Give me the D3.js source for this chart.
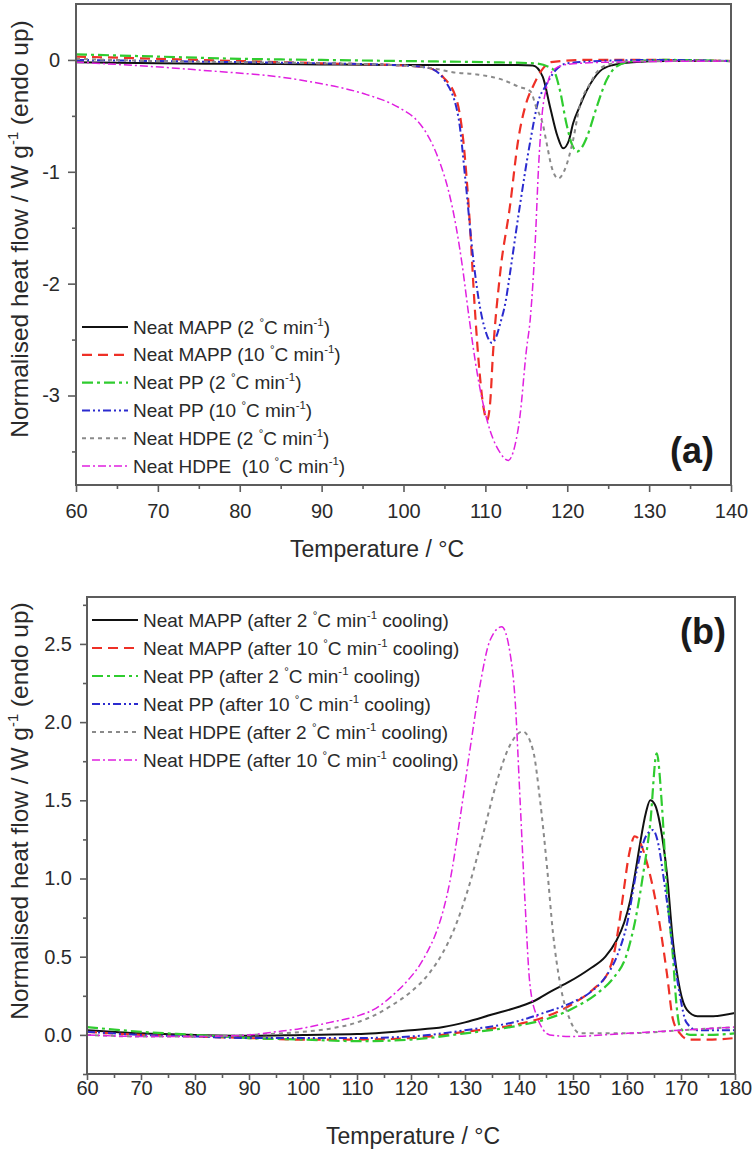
<!DOCTYPE html>
<html>
<head>
<meta charset="utf-8">
<script src="https://cdn.jsdelivr.net/npm/d3@7"></script>
<style>
  html, body { margin: 0; padding: 0; background: #fff; }
  svg { display: block; font-family: "Liberation Sans", Arial, sans-serif; }
  text { white-space: pre; }
</style>
</head>
<body>
<svg id="fig" width="752" height="1151"></svg>
<script>
// ---------- Panel (a): cooling scans ----------
const tA_mapp2  = [60, 70, 80, 90, 100, 110, 114, 115.8, 117, 117.9, 118.8, 119.5, 120.2, 120.7, 121.5, 122.4, 123.2, 124, 125.6, 128, 132, 140];
const vA_mapp2  = [-0.02, -0.03, -0.035, -0.04, -0.045, -0.045, -0.045, -0.05, -0.15, -0.42, -0.68, -0.79, -0.72, -0.57, -0.42, -0.27, -0.17, -0.1, -0.045, -0.02, -0.01, -0.01];

const tA_mapp10 = [60, 70, 80, 90, 100, 103, 104.8, 106.5, 107.3, 108.1, 108.7, 109.3, 109.8, 110.2, 110.6, 110.9, 111.8, 113, 114, 115.1, 115.8, 116.8, 118, 122, 130, 140];
const vA_mapp10 = [0.03, 0.01, -0.01, -0.03, -0.05, -0.07, -0.15, -0.36, -0.72, -1.46, -2.21, -2.8, -3.12, -3.22, -3.05, -2.66, -1.91, -1.31, -0.72, -0.36, -0.24, -0.1, -0.02, 0, 0, -0.01];

const tA_pp2    = [60, 70, 80, 90, 100, 110, 116, 118.2, 119.1, 119.9, 120.6, 121.2, 121.8, 122.4, 123.6, 124.8, 126, 128, 132, 140];
const vA_pp2    = [0.05, 0.03, 0.01, 0, -0.01, -0.02, -0.03, -0.08, -0.27, -0.57, -0.76, -0.82, -0.78, -0.69, -0.42, -0.18, -0.06, -0.01, 0, -0.01];

const tA_pp10   = [60, 70, 80, 90, 100, 103, 105, 106.7, 107.6, 108.4, 109.2, 110, 110.8, 111.3, 111.8, 112.5, 113, 114.2, 115.5, 116.5, 117.3, 118.6, 120, 124, 130, 140];
const vA_pp10   = [0, -0.01, -0.02, -0.03, -0.05, -0.07, -0.18, -0.51, -1.1, -1.7, -2.15, -2.42, -2.53, -2.48, -2.36, -2.15, -1.91, -1.31, -0.72, -0.36, -0.24, -0.09, -0.03, -0.01, 0, -0.01];

const tA_hdpe2  = [60, 70, 80, 90, 100, 104, 106, 109, 112.2, 114.1, 115.5, 116.2, 117, 117.5, 118.1, 118.9, 119.7, 120.7, 121.5, 122.8, 123.5, 125, 128, 140];
const vA_hdpe2  = [0.01, -0.01, -0.02, -0.03, -0.05, -0.08, -0.11, -0.13, -0.18, -0.24, -0.28, -0.42, -0.57, -0.75, -0.96, -1.06, -0.98, -0.72, -0.42, -0.21, -0.12, -0.04, -0.01, -0.01];

const tA_hdpe10 = [60, 65, 75, 87.4, 95.5, 98.5, 100, 101.5, 102.5, 103.5, 104.5, 105.5, 106.4, 107.2, 108, 109, 110.2, 111.7, 112.8, 113.6, 114.2, 115, 115.5, 116.1, 116.5, 116.9, 117.5, 118.3, 120, 125, 140];
const vA_hdpe10 = [-0.02, -0.04, -0.09, -0.18, -0.31, -0.39, -0.45, -0.53, -0.62, -0.75, -0.93, -1.17, -1.48, -1.85, -2.3, -2.8, -3.22, -3.5, -3.58, -3.45, -3.2, -2.6, -2.3, -1.61, -0.95, -0.51, -0.24, -0.09, -0.04, -0.02, -0.01];

const legendA = [
  "Neat MAPP (2 {°}C min{-1})",
  "Neat MAPP (10 {°}C min{-1})",
  "Neat PP (2 {°}C min{-1})",
  "Neat PP (10 {°}C min{-1})",
  "Neat HDPE (2 {°}C min{-1})",
  "Neat HDPE  (10 {°}C min{-1})"
];
const xTicksA = [60, 70, 80, 90, 100, 110, 120, 130, 140];
const yTicksA = [0, -1, -2, -3];

// ---------- Panel (b): subsequent heating scans ----------
const tB_mapp2  = [60, 70, 80, 90, 100, 110, 120, 126, 130, 135, 140, 143, 146, 149.3, 153, 156, 158, 159.5, 160.6, 161.5, 162.4, 163.5, 164.3, 165.2, 166.1, 167.4, 168.5, 169.8, 171.1, 173, 176, 180];
const vB_mapp2  = [0.03, 0.01, 0, -0.005, 0, 0.005, 0.03, 0.05, 0.08, 0.13, 0.18, 0.22, 0.28, 0.34, 0.42, 0.5, 0.6, 0.72, 0.86, 1.03, 1.22, 1.42, 1.5, 1.47, 1.35, 1.03, 0.6, 0.29, 0.16, 0.12, 0.12, 0.14];

const tB_mapp10 = [60, 70, 80, 90, 100, 110, 120, 130, 140, 144.4, 150, 154, 156.5, 157.6, 158.7, 159.5, 160.2, 160.8, 161.4, 162, 162.8, 163.7, 165.5, 167.4, 168.5, 169.8, 171.5, 175, 180];
const vB_mapp10 = [0.02, 0, -0.01, -0.02, -0.03, -0.03, -0.02, 0.02, 0.07, 0.11, 0.2, 0.3, 0.4, 0.52, 0.75, 0.95, 1.12, 1.22, 1.27, 1.26, 1.2, 1.1, 0.82, 0.39, 0.1, 0.01, -0.03, -0.03, -0.02];

const tB_pp2    = [60, 70, 80, 90, 100, 110, 120, 130, 140, 145, 150, 155, 157.4, 160, 161.8, 163, 164.3, 165.5, 166.5, 167.4, 168.5, 169.2, 169.8, 171.7, 175, 180];
const vB_pp2    = [0.05, 0.02, 0, -0.02, -0.03, -0.04, -0.03, 0.01, 0.06, 0.1, 0.17, 0.28, 0.36, 0.52, 0.78, 1.03, 1.35, 1.8, 1.45, 0.92, 0.5, 0.18, 0.05, 0, 0, 0.01];

const tB_pp10   = [60, 70, 80, 90, 100, 110, 120, 130, 140, 144.5, 150, 153.1, 156, 158.1, 160, 161.8, 163.5, 164.8, 165.8, 166.8, 167.6, 168.5, 169.8, 171, 173, 180];
const vB_pp10   = [0.02, 0, -0.01, -0.02, -0.02, -0.02, -0.01, 0.03, 0.09, 0.14, 0.21, 0.27, 0.37, 0.5, 0.71, 1.05, 1.27, 1.31, 1.22, 1, 0.8, 0.55, 0.25, 0.08, 0.03, 0.03];

const tB_hdpe2  = [60, 70, 80, 90, 100, 105, 110, 113.5, 116.5, 119.8, 123.5, 125.8, 127.8, 130.9, 133.4, 135.9, 138.3, 140.7, 142.6, 143.9, 145.2, 146.3, 147.6, 149.4, 151.3, 160, 170, 180];
const vB_hdpe2  = [0, -0.01, -0.01, 0, 0.02, 0.04, 0.08, 0.13, 0.19, 0.27, 0.4, 0.52, 0.66, 0.97, 1.29, 1.62, 1.85, 1.94, 1.82, 1.5, 1.07, 0.65, 0.33, 0.1, 0.01, 0.01, 0.03, 0.05];

const tB_hdpe10 = [60, 70, 80, 90, 95, 99.4, 105, 110, 113.5, 116.5, 119.7, 121.5, 123, 124.5, 126, 127.2, 129.1, 130.9, 132.8, 134.6, 136.8, 138.3, 139.3, 140.2, 141.1, 142, 143.3, 145.7, 149.4, 160, 170, 180];
const vB_hdpe10 = [0, -0.01, -0.01, 0, 0.02, 0.04, 0.08, 0.12, 0.17, 0.25, 0.36, 0.44, 0.53, 0.64, 0.8, 0.98, 1.39, 1.82, 2.24, 2.52, 2.61, 2.45, 2.13, 1.5, 0.86, 0.33, 0.12, 0.0, -0.01, 0.01, 0.03, 0.05];

const legendB = [
  "Neat MAPP (after 2 {°}C min{-1} cooling)",
  "Neat MAPP (after 10 {°}C min{-1} cooling)",
  "Neat PP (after 2 {°}C min{-1} cooling)",
  "Neat PP (after 10 {°}C min{-1} cooling)",
  "Neat HDPE (after 2 {°}C min{-1} cooling)",
  "Neat HDPE (after 10 {°}C min{-1} cooling)"
];
const xTicksB = [60, 70, 80, 90, 100, 110, 120, 130, 140, 150, 160, 170, 180];
const yTicksB = [0, 0.5, 1, 1.5, 2, 2.5];

// ---------- line styles (shared by both panels) ----------
const styles = [
  { color: "#111111", dash: null,            width: 2.0 },
  { color: "#ee3026", dash: "10,6",          width: 2.2 },
  { color: "#2fcc2f", dash: "11,4,3,4",      width: 2.2 },
  { color: "#2b2bcf", dash: "8,3,2,3,2,3",   width: 2.0 },
  { color: "#8a8a8a", dash: "4,4",           width: 2.0 },
  { color: "#e020e0", dash: "8,3,2,3",       width: 1.5 }
];

const svg = d3.select("#fig");
const FONT_TICK = 20, FONT_LEG = 19, FONT_TITLE = 24.5;
const TEXT = "#2a2a2a", FRAME = "#5c5c5c";

// text with {superscript} segments
function rich(sel, str, fs) {
  const parts = str.split(/\{([^}]*)\}/);
  let shifted = false;
  parts.forEach((p, i) => {
    if (!p) return;
    const sup = i % 2 === 1;
    const t = sel.append("tspan").text(p);
    if (sup) { t.attr("font-size", fs * 0.6).attr("dy", -fs * 0.42); shifted = true; }
    else if (shifted) { t.attr("dy", fs * 0.42); shifted = false; }
  });
}

function panel(cfg) {
  const { left, right, top, bottom, xDom, yDom } = cfg;
  const x = d3.scaleLinear().domain(xDom).range([left, right]);
  const y = d3.scaleLinear().domain(yDom).range([bottom, top]);
  const g = svg.append("g");

  const clipId = "clip-" + cfg.name;
  svg.append("clipPath").attr("id", clipId)
    .append("rect").attr("x", left).attr("y", top)
    .attr("width", right - left).attr("height", bottom - top);

  // curves
  const line = d3.line().x(d => x(d[0])).y(d => y(d[1])).curve(d3.curveMonotoneX);
  const lines = g.append("g").attr("clip-path", `url(#${clipId})`);
  cfg.series.forEach((s, i) => {
    const st = styles[i];
    const pts = s.t.map((t, k) => [t, s.v[k]]);
    lines.append("path").datum(pts)
      .attr("d", line)
      .attr("fill", "none")
      .attr("stroke", st.color)
      .attr("stroke-width", st.width)
      .attr("stroke-dasharray", st.dash)
      .attr("stroke-linejoin", "round");
  });

  // axes: major + minor ticks
  const xAxis = d3.axisBottom(x).tickValues(cfg.xTicks).tickSize(cfg.xTickLen)
    .tickPadding(cfg.xPad).tickFormat(d3.format("d")).tickSizeOuter(0);
  const xMinor = d3.axisBottom(x).tickValues(cfg.xMinor).tickSize(4).tickFormat("").tickSizeOuter(0);
  const yAxis = d3.axisLeft(y).tickValues(cfg.yTicks).tickSize(cfg.yTickLen)
    .tickPadding(cfg.yPad).tickFormat(cfg.yFmt).tickSizeOuter(0);
  const yMinor = d3.axisLeft(y).tickValues(cfg.yMinor).tickSize(4).tickFormat("").tickSizeOuter(0);

  [[xAxis, `translate(0,${bottom})`], [xMinor, `translate(0,${bottom})`],
   [yAxis, `translate(${left},0)`], [yMinor, `translate(${left},0)`]].forEach(([ax, tr]) => {
    const a = g.append("g").attr("transform", tr).call(ax);
    a.select(".domain").remove();
    a.selectAll("line").attr("stroke", FRAME).attr("stroke-width", 1.6);
    a.selectAll("text").attr("fill", TEXT).attr("font-size", FONT_TICK)
      .attr("font-family", "Liberation Sans, Arial, sans-serif");
  });

  // frame
  g.append("rect").attr("x", left).attr("y", top)
    .attr("width", right - left).attr("height", bottom - top)
    .attr("fill", "none").attr("stroke", FRAME).attr("stroke-width", 2);

  // legend
  const lg = g.append("g");
  cfg.legend.forEach((lab, i) => {
    const st = styles[i];
    const yy = cfg.legY + i * cfg.legStep;
    lg.append("line").attr("x1", cfg.legX1).attr("x2", cfg.legX2)
      .attr("y1", yy).attr("y2", yy)
      .attr("stroke", st.color).attr("stroke-width", st.width)
      .attr("stroke-dasharray", st.dash);
    const t = lg.append("text").attr("x", cfg.legX2 + 5).attr("y", yy + 6.5)
      .attr("font-size", FONT_LEG).attr("fill", TEXT);
    rich(t, lab, FONT_LEG);
  });

  // panel tag
  g.append("text").attr("x", cfg.tagX).attr("y", cfg.tagY)
    .attr("text-anchor", "end").attr("font-weight", "bold")
    .attr("font-size", 36).attr("fill", "#1a1a1a").text(cfg.tag);

  // axis titles
  g.append("text").attr("x", cfg.xTitleX).attr("y", cfg.xTitleY)
    .attr("text-anchor", "middle").attr("font-size", 23).attr("fill", TEXT)
    .text("Temperature / °C");
  const yt = g.append("text")
    .attr("transform", `translate(${cfg.yTitleX},${cfg.yTitleY}) rotate(-90)`)
    .attr("text-anchor", "middle").attr("font-size", FONT_TITLE).attr("fill", TEXT);
  rich(yt, "Normalised heat flow / W g{-1} (endo up)", FONT_TITLE);
}

panel({
  name: "a", left: 76, right: 731, top: 4, bottom: 485,
  xDom: [60, 140], yDom: [-3.8, 0.5],
  xTicks: xTicksA, xMinor: d3.range(65, 140, 10), xTickLen: 7, xPad: 12,
  yTicks: yTicksA, yMinor: [-0.5, -1.5, -2.5, -3.5], yTickLen: 8, yPad: 8,
  yFmt: v => String(v),
  series: [
    { t: tA_mapp2, v: vA_mapp2 }, { t: tA_mapp10, v: vA_mapp10 },
    { t: tA_pp2, v: vA_pp2 }, { t: tA_pp10, v: vA_pp10 },
    { t: tA_hdpe2, v: vA_hdpe2 }, { t: tA_hdpe10, v: vA_hdpe10 }
  ],
  legend: legendA, legX1: 82, legX2: 128, legY: 327, legStep: 27.8,
  tag: "(a)", tagX: 714, tagY: 463,
  xTitleX: 377, xTitleY: 557, yTitleX: 28, yTitleY: 229
});

panel({
  name: "b", left: 87, right: 735, top: 597, bottom: 1074,
  xDom: [60, 180], yDom: [-0.25, 2.8],
  xTicks: xTicksB, xMinor: d3.range(65, 180, 10), xTickLen: 6, xPad: 1,
  yTicks: yTicksB, yMinor: [-0.25, 0.25, 0.75, 1.25, 1.75, 2.25, 2.75], yTickLen: 7, yPad: 8,
  yFmt: d3.format(".1f"),
  series: [
    { t: tB_mapp2, v: vB_mapp2 }, { t: tB_mapp10, v: vB_mapp10 },
    { t: tB_pp2, v: vB_pp2 }, { t: tB_pp10, v: vB_pp10 },
    { t: tB_hdpe2, v: vB_hdpe2 }, { t: tB_hdpe10, v: vB_hdpe10 }
  ],
  legend: legendB, legX1: 92, legX2: 138, legY: 620, legStep: 28,
  tag: "(b)", tagX: 726, tagY: 644,
  xTitleX: 413, xTitleY: 1144, yTitleX: 28, yTitleY: 811
});
</script>
</body>
</html>
